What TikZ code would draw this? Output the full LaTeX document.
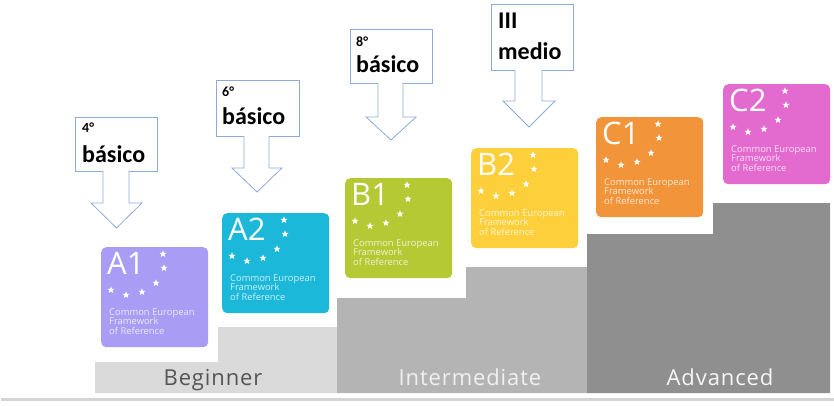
\documentclass[tikz,border=0pt]{standalone}
\usepackage{fontspec}
\setmainfont{Open Sans}
\newfontfamily\calfont{Carlito}
\newfontfamily\stepfont[LetterSpace=4]{Open Sans}
\usetikzlibrary{shapes.geometric}
\definecolor{stepA}{HTML}{DADADA}
\definecolor{stepB}{HTML}{B4B4B4}
\definecolor{stepC}{HTML}{8F8F8F}
\definecolor{baseln}{HTML}{D4D4D4}
\definecolor{cA1}{HTML}{A99CF5}
\definecolor{cA2}{HTML}{1BB8D9}
\definecolor{cB1}{HTML}{B5C935}
\definecolor{cB2}{HTML}{FDCF3A}
\definecolor{cC1}{HTML}{F29439}
\definecolor{cC2}{HTML}{E36ACF}
\definecolor{callline}{HTML}{8EAADB}
\definecolor{steptext}{HTML}{555555}
\tikzset{
  card/.style={rounded corners=5pt, draw=none},
  lvl/.style={anchor=north west, inner sep=0pt, text=white, font=\fontsize{31}{31}\selectfont},
  cef/.style={anchor=north west, inner sep=0pt, text=white, text opacity=0.78, align=left, font=\fontsize{9.4}{9.6}\selectfont},
  wstar/.style={star, star points=5, star point ratio=2.4, fill=white, inner sep=0pt, minimum size=7.5pt, draw=none},
  callbox/.style={draw=callline, line width=0.8pt, fill=white, inner sep=0pt},
  callarrow/.style={draw=callline, line width=0.8pt, fill=white, line join=miter},
  smalltxt/.style={anchor=base west, inner sep=0pt, font=\calfont\bfseries\fontsize{14}{14}\selectfont},
  bigtxt/.style={anchor=base west, inner sep=0pt, font=\calfont\bfseries\fontsize{24}{24}\selectfont},
  steplabel/.style={anchor=base, inner sep=0pt, font=\stepfont\fontsize{22}{22}\selectfont}
}
\begin{document}
\begin{tikzpicture}[x=1pt,y=-1pt]
\useasboundingbox (0,0) rectangle (834,406);
% baseline
\fill[baseln] (1,398) rectangle (834,401);
% steps
\fill[stepA] (95,362) -- (218,362) -- (218,327) -- (337,327) -- (337,393) -- (95,393) -- cycle;
\fill[stepB] (337,298) -- (466,298) -- (466,267) -- (587,267) -- (587,393) -- (337,393) -- cycle;
\fill[stepC] (587,234) -- (713,234) -- (713,203) -- (830,203) -- (830,393) -- (587,393) -- cycle;
\node[steplabel, text=steptext] (beg) at (213,385) {Beginner};
\node[steplabel, text=white!94!black] (int) at (470,385) {Intermediate};
\node[steplabel, text=white!97!black] (adv) at (720,385) {Advanced};
% cards
\foreach \nm/\col/\x/\y in {A1/cA1/101/247, A2/cA2/222/213, B1/cB1/345/178, B2/cB2/471/148, C1/cC1/596/117, C2/cC2/723/84}{
  \node[card, fill=\col, minimum width=107pt, minimum height=100pt, anchor=north west, inner sep=0pt] (card\nm) at (\x,\y) {};
  \node[lvl] (lvl\nm) at ([xshift=6pt,yshift=-5pt]card\nm.north west) {\nm};
  \foreach \sx/\sy [count=\k] in {62/7, 63/21, 55/36, 41/45, 25/48, 10/43}{
    \node[wstar] (st\nm\k) at ([xshift=\sx pt,yshift=-\sy pt]card\nm.north west) {};
  }
  \node[cef] (cef\nm) at ([xshift=8pt,yshift=-61pt]card\nm.north west) {Common European\\Framework\\of Reference};
}
% callouts
\foreach \nm/\bx/\by/\bw/\bh/\sl/\sr/\wl/\wr/\wy/\ty in {
   c4/75/117/82/54/103/129/91/142/203/228,
   c6/216/80/83/56/244/269/232/282/168/192,
   c8/350/29/82/54/378/403/366/416/117/140,
   cIII/491/4/82/66/515/542/503/555/101/127}{
  \node[callbox, minimum width=\bw pt, minimum height=\bh pt, anchor=north west] (\nm) at (\bx,\by) {};
  \coordinate (\nm tip) at ({(\wl+\wr)/2},\ty);
  \draw[callarrow] (\sl,\by+\bh) -- (\sl,\wy) -- (\wl,\wy) -- (\nm tip) -- (\wr,\wy) -- (\sr,\wy) -- (\sr,\by+\bh);
}
\node[smalltxt] (t4a) at ([xshift=7pt,yshift=-16pt]c4.north west) {4°};
\node[bigtxt] (t4b) at ([xshift=7pt,yshift=-45pt]c4.north west) {básico};
\node[smalltxt] (t6a) at ([xshift=6pt,yshift=-17pt]c6.north west) {6°};
\node[bigtxt] (t6b) at ([xshift=6pt,yshift=-45pt]c6.north west) {básico};
\node[smalltxt] (t8a) at ([xshift=6pt,yshift=-18pt]c8.north west) {8°};
\node[bigtxt] (t8b) at ([xshift=6pt,yshift=-44pt]c8.north west) {básico};
\node[bigtxt] (tIIIa) at ([xshift=7pt,yshift=-25pt]cIII.north west) {III};
\node[bigtxt] (tIIIb) at ([xshift=7pt,yshift=-56pt]cIII.north west) {medio};
\end{tikzpicture}
\end{document}
